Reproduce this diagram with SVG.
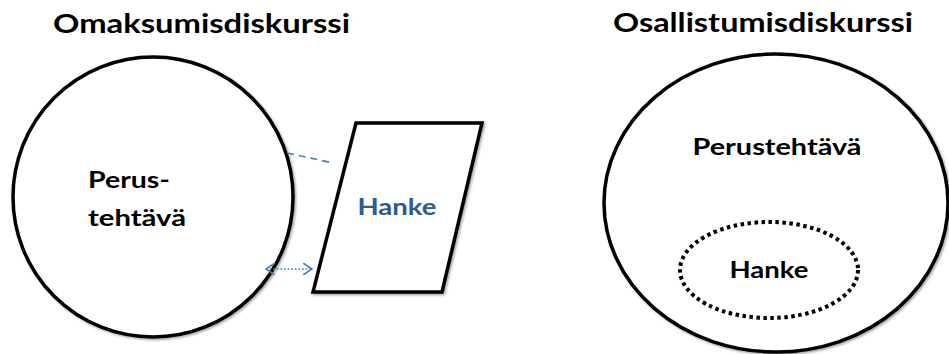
<svg xmlns="http://www.w3.org/2000/svg" width="949" height="354" viewBox="0 0 949 354">
<style>
.title{font-family:Lato,"Open Sans","Liberation Sans",sans-serif;font-weight:bold;font-size:26px;fill:#000}
.lbl{font-family:Lato,"Open Sans","Liberation Sans",sans-serif;font-weight:bold;font-size:23px;fill:#000}
.blue{fill:#2E5A92}
.shape{fill:#fff;stroke:#000;stroke-width:3.5}
.conn{stroke:#4A7EBB;stroke-width:1.6;fill:none}
</style>
<defs>
<filter id="sh" x="-10%" y="-10%" width="120%" height="120%">
<feDropShadow dx="1.5" dy="1.5" stdDeviation="1" flood-color="#000" flood-opacity="0.35"/>
</filter>
<marker id="chev" viewBox="0 0 10 12" refX="9" refY="6" markerWidth="10" markerHeight="12" markerUnits="userSpaceOnUse" orient="auto-start-reverse">
<path d="M0,0 L9,6 L0,12" fill="none" stroke="#4A7EBB" stroke-width="1.6"/>
</marker>
</defs>
<rect width="949" height="354" fill="#fff"/>
<text class="title" x="53" y="33" textLength="297" lengthAdjust="spacingAndGlyphs">Omaksumisdiskurssi</text>
<text class="title" x="613" y="32" textLength="300" lengthAdjust="spacingAndGlyphs">Osallistumisdiskurssi</text>
<g id="perustehtava-left">
<circle class="shape" cx="153" cy="197" r="140" filter="url(#sh)"/>
<text class="lbl" x="88" y="188" textLength="82" lengthAdjust="spacingAndGlyphs" font-size="24">Perus-</text>
<text class="lbl" x="88" y="226" textLength="98" lengthAdjust="spacingAndGlyphs" font-size="24">tehtävä</text>
</g>
<g id="hanke-left">
<polygon class="shape" points="356,123 482,123 442,292 313,292" filter="url(#sh)"/>
<text class="lbl blue" x="397" y="215" text-anchor="middle" textLength="79" lengthAdjust="spacingAndGlyphs" font-size="26">Hanke</text>
</g>
<g id="connectors">
<line class="conn" x1="287" y1="153" x2="333" y2="163" stroke-dasharray="7 5"/>
<line class="conn" x1="266" y1="269" x2="312" y2="269" stroke-dasharray="1.8 1.8" marker-start="url(#chev)" marker-end="url(#chev)"/>
</g>
<g id="perustehtava-right">
<ellipse class="shape" cx="776" cy="203" rx="172" ry="149" filter="url(#sh)"/>
<text class="lbl" x="777" y="155" text-anchor="middle" textLength="169" lengthAdjust="spacingAndGlyphs">Perustehtävä</text>
</g>
<g id="hanke-right">
<ellipse cx="769" cy="270" rx="89" ry="48" fill="none" stroke="#000" stroke-width="4" stroke-dasharray="3.5 3.5"/>
<text class="lbl" x="769" y="278" text-anchor="middle" textLength="79" lengthAdjust="spacingAndGlyphs">Hanke</text>
</g>
</svg>
